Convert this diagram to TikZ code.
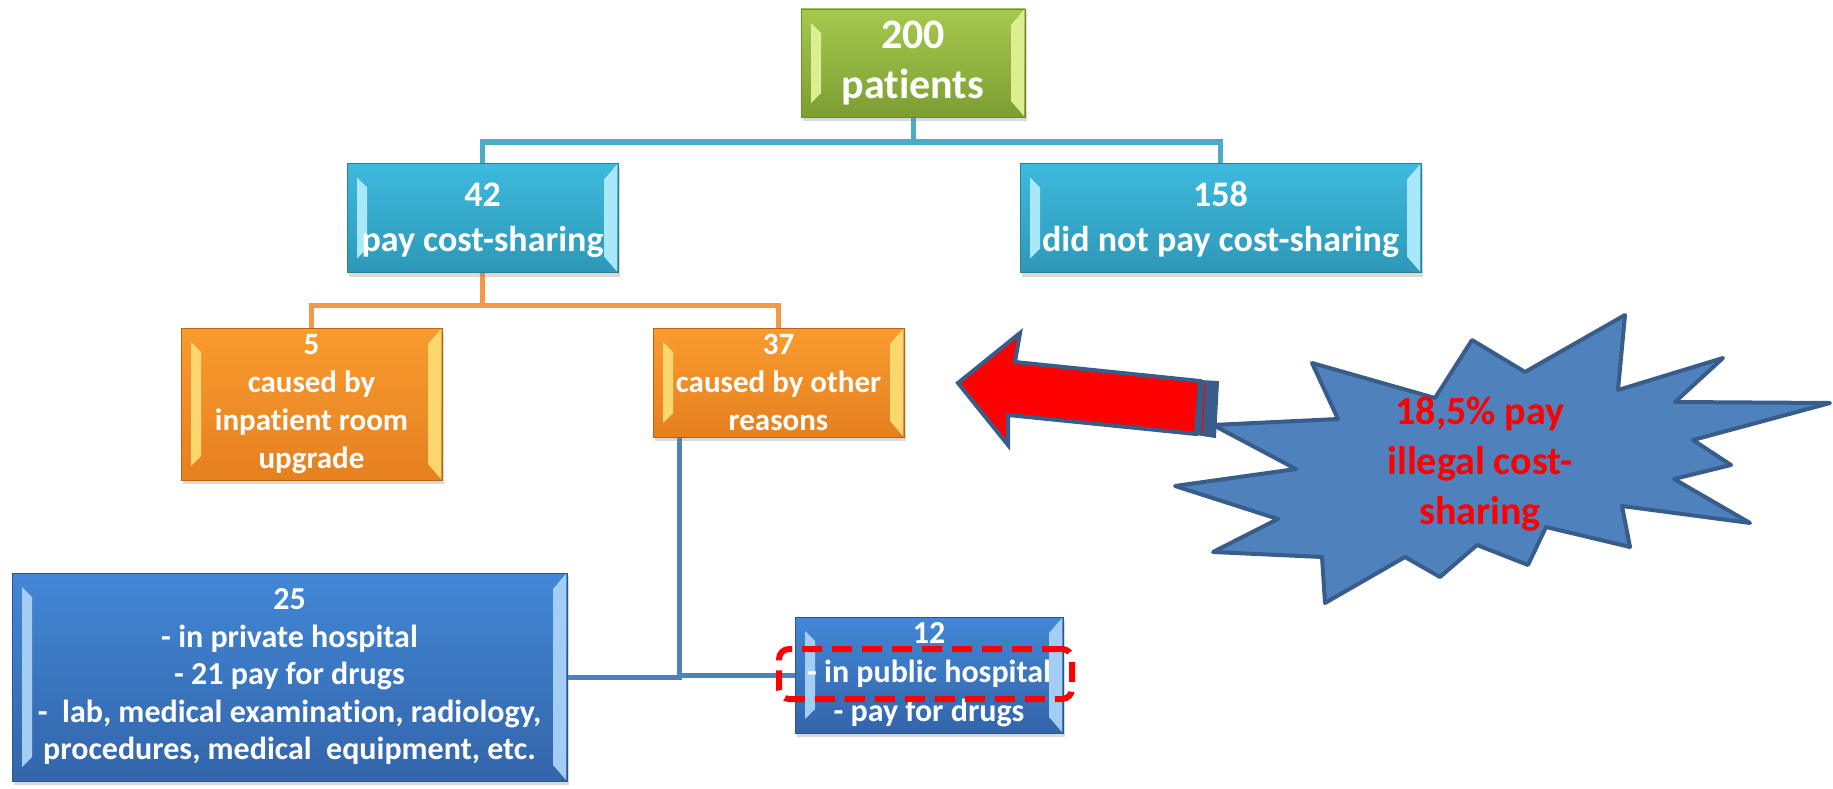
\documentclass[tikz,border=0pt]{standalone}
\usepackage{fontspec}
\setmainfont{Carlito}[Ligatures={NoCommon}]
\usetikzlibrary{calc,shadows}
\definecolor{gTop}{HTML}{A5C94E}\definecolor{gBot}{HTML}{7C9E33}\definecolor{gDraw}{HTML}{6E8C2E}\definecolor{gBev}{HTML}{DCEE90}
\definecolor{cTop}{HTML}{3DBADF}\definecolor{cBot}{HTML}{2E98B7}\definecolor{cDraw}{HTML}{2A7F99}\definecolor{cBev}{HTML}{A8E8F8}
\definecolor{oTop}{HTML}{F99B2E}\definecolor{oBot}{HTML}{E5801F}\definecolor{oDraw}{HTML}{B86418}\definecolor{oBev}{HTML}{FCD770}
\definecolor{bTop}{HTML}{4287D6}\definecolor{bBot}{HTML}{3365AA}\definecolor{bDraw}{HTML}{2E558C}\definecolor{bBev}{HTML}{A3CDF3}
\definecolor{lineC}{HTML}{4BACC6}\definecolor{lineO}{HTML}{F79646}\definecolor{lineB}{HTML}{4F81BD}
\definecolor{starF}{HTML}{4F81BD}\definecolor{starD}{HTML}{385D8A}
\pgfdeclarelayer{bg}\pgfsetlayers{bg,main}
\begin{document}
\begin{tikzpicture}[x=1pt,y=-1pt,
  bx/.style={rectangle, inner sep=0pt, align=center, text=white, line width=0.8pt,
    drop shadow={opacity=0.3, shadow xshift=2pt, shadow yshift=-4pt}},
  bevel/.style={path picture={
    \fill[#1] ($(path picture bounding box.north west)+(10,14)$) -- ($(path picture bounding box.north west)+(20,24)$) -- ($(path picture bounding box.south west)+(20,-24)$) -- ($(path picture bounding box.south west)+(10,-14)$) -- cycle;
    \fill[#1] ($(path picture bounding box.north east)+(-1,1)$) -- ($(path picture bounding box.north east)+(-14,16)$) -- ($(path picture bounding box.south east)+(-14,-16)$) -- ($(path picture bounding box.south east)+(-1,-1)$) -- cycle;}},
  greenbox/.style={bx, top color=gTop, bottom color=gBot, draw=gDraw, bevel=gBev},
  cyanbox/.style={bx, top color=cTop, bottom color=cBot, draw=cDraw, bevel=cBev},
  orangebox/.style={bx, top color=oTop, bottom color=oBot, draw=oDraw, bevel=oBev},
  bluebox/.style={bx, top color=bTop, bottom color=bBot, draw=bDraw, bevel=bBev},
  conn/.style={line width=5pt},
  startxt/.style={text=red, align=center, font=\bfseries\fontsize{40}{50}\selectfont},
  hl/.style={draw=red, dashed, dash pattern=on 20pt off 10pt, line width=6pt, rounded corners=10pt, minimum width=293pt, minimum height=50pt, inner sep=0pt}
]
\useasboundingbox (0,0) rectangle (1833,789);

% boxes
\node[greenbox, minimum width=224pt, minimum height=108pt, font=\bfseries\fontsize{42}{50}\selectfont] (n200) at (913,63) {200\\patients};
\node[cyanbox, minimum width=271pt, minimum height=109pt, font=\bfseries\fontsize{36}{45}\selectfont] (n42) at (482.5,218) {\rule{0pt}{28pt}42\\pay cost-sharing};
\node[cyanbox, minimum width=401pt, minimum height=109pt, font=\bfseries\fontsize{36}{45}\selectfont] (n158) at (1220.5,218) {\rule{0pt}{28pt}158\\did not pay cost-sharing};
\node[orangebox, minimum width=261pt, minimum height=152pt, font=\bfseries\fontsize{31}{38}\selectfont] (n5) at (311.5,404) {5\\caused by\\inpatient room\\upgrade};
\node[orangebox, minimum width=251pt, minimum height=109pt, font=\bfseries\fontsize{31}{38}\selectfont] (n37) at (778.5,382.5) {37\\caused by other\\reasons};
\node[bluebox, minimum width=555pt, minimum height=208pt, font=\bfseries\fontsize{32}{37.5}\selectfont] (n25) at (289.5,677) {25\\- in private hospital\\- 21 pay for drugs\\-\ \ lab, medical examination, radiology,\\procedures, medical\ \ equipment, etc.};
\node[bluebox, minimum width=268pt, minimum height=116pt, font=\bfseries\fontsize{32}{39}\selectfont] (n12) at (929,675) {12\\- in public hospital\\- pay for drugs};
\node[hl] (hl) at (925.5,674) {};

% connectors
\begin{pgfonlayer}{bg}
\coordinate (j1) at (913,142);
\coordinate (j2) at (482.5,305);
\coordinate (j3) at (679,677);
\draw[conn, lineC] (n200.south) -- (j1);
\draw[conn, lineC] (n42.north) |- (j1) -| (n158.north);
\draw[conn, lineO] (n42.south) -- (j2);
\draw[conn, lineO] (n5.north) |- (j2) -| (n37.north);
\draw[conn, lineB] (n25.east) -- (j3) -- (j3 |- n37.south);
\draw[conn, lineB] (j3 |- n12.west) -- (n12.west);
\end{pgfonlayer}

% starburst
\draw[fill=starF, draw=starD, line width=4pt, line join=round]
 (1312,363) -- (1435,398) -- (1472,340) -- (1525,372) -- (1625,315) -- (1618,390) -- (1723,358) -- (1675,402) -- (1830,403) -- (1693,440) -- (1731,465) -- (1674,479) -- (1750,523) -- (1622,506) -- (1630,547) -- (1546,527) -- (1528,565) -- (1477,545) -- (1440,577) -- (1405,557) -- (1325,603) -- (1322,557) -- (1213,552) -- (1278,519) -- (1175,486) -- (1296,469) -- (1213,425) -- (1338,419) -- cycle;
\node[startxt] (st) at (1480,464) {18,5\% pay\\illegal cost-\\sharing};

% arrow
\draw[fill=red, draw=starD, line width=4pt, line join=miter]
 (958,383) -- (1020,333) -- (1015,362) -- (1200,381) -- (1196,434) -- (1008,415) -- (1008,445) -- cycle;
\draw[fill=starD, draw=starD, line width=2pt] (1200,381) -- (1218,382) -- (1215,437) -- (1196,434) -- cycle;
\draw[red, line width=1.2pt] (1205,384) -- (1202,433);
\end{tikzpicture}
\end{document}
